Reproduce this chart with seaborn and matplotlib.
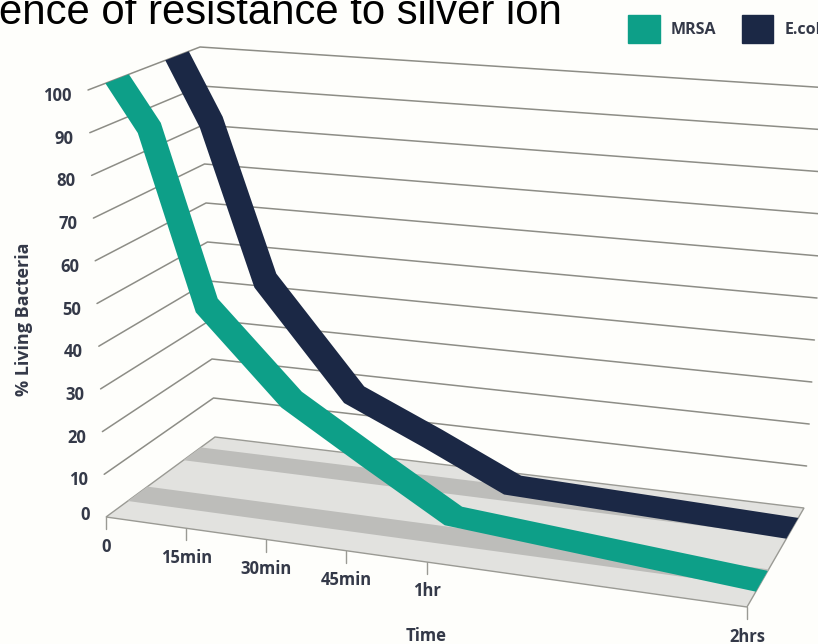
import numpy as np
import pandas as pd
import seaborn as sns
from matplotlib import pyplot as plt
from matplotlib.patches import Patch

# values
mrsa_minutes = [0, 5.5, 15, 30.5, 45, 61, 120]
mrsa_percent = [100, 89, 48, 28, 17, 5.5, 0]
ecoli_minutes = [0, 6, 15.5, 32.5, 48, 64, 120]
ecoli_percent = [100, 84, 45.5, 19.5, 11, 2, 0]
percent_ticks = [100, 90, 80, 70, 60, 50, 40, 30, 20, 10, 0]
time_ticks = [0, 15, 30, 45, 60, 120]
time_labels = ['0', '15min', '30min', '45min', '1hr', '2hrs']

GREEN = '#0d9f88'
NAVY = '#1b2845'
BG = '#fefefb'
INK = '#343948'
MAX_MINUTES = 120

# corners of the fake 3d box in image pixels: [time end][depth end]
floor_box = np.array([[[106, 517], [215, 437]], [[747, 607], [804, 508]]], float)
top_box = np.array([[[88, 90], [200, 47]], [[765, 167], [830, 88]]], float)


def project(minutes, depth, percent):
    t = np.asarray(minutes, float) / MAX_MINUTES
    d = np.asarray(depth, float)
    p = np.asarray(percent, float) / 100
    t, d, p = np.broadcast_arrays(t, d, p)
    t, d, p = t[..., None], d[..., None], p[..., None]
    low = ((1 - t) * (1 - d) * floor_box[0, 0] + (1 - t) * d * floor_box[0, 1]
           + t * (1 - d) * floor_box[1, 0] + t * d * floor_box[1, 1])
    high = ((1 - t) * (1 - d) * top_box[0, 0] + (1 - t) * d * top_box[0, 1]
            + t * (1 - d) * top_box[1, 0] + t * d * top_box[1, 1])
    return (1 - p) * low + p * high


def ribbon(ax, minutes, percent, d1, d2, color, z):
    front = project(minutes, d1, percent)
    back = project(minutes, d2, percent)
    outline = np.vstack([front, back[::-1]])
    ax.fill(outline[:, 0], outline[:, 1], color=color, lw=0, zorder=z)


sns.set_theme(style='white')
plt.rcParams['font.family'] = ['Open Sans', 'DejaVu Sans']

fig = plt.figure(figsize=(8.18, 6.44), dpi=100, facecolor=BG)
ax = fig.add_axes([0, 0, 1, 1])
ax.set_facecolor(BG)

# wall grid lines
rows = []
for level in percent_ticks[:-1]:
    corner = project(0, 1, level)
    left = project(0, 0, level)
    right = project(MAX_MINUTES, 1, level)
    for n, pt in enumerate([left, corner, right]):
        rows.append({'level': level, 'order': n, 'x': pt[0], 'y': pt[1]})
grid = pd.DataFrame(rows)
sns.lineplot(data=grid, x='x', y='y', units='level', estimator=None, sort=False,
             color='#8d8d86', lw=1.1, ax=ax, zorder=1)

# floor and its two darker bands
corners = project([0, MAX_MINUTES, MAX_MINUTES, 0], [0, 0, 1, 1], 0)
ax.fill(corners[:, 0], corners[:, 1], facecolor='#e2e2df', edgecolor='#9a9a94', lw=1, zorder=2)
for d1, d2 in [(0.2, 0.38), (0.71, 0.87)]:
    band = project([0, MAX_MINUTES, MAX_MINUTES, 0], [d1, d1, d2, d2], 0)
    ax.fill(band[:, 0], band[:, 1], color='#bdbdba', lw=0, zorder=3)

# series ribbons
ribbon(ax, ecoli_minutes, ecoli_percent, 0.69, 0.90, NAVY, 4)
ribbon(ax, mrsa_minutes, mrsa_percent, 0.155, 0.365, GREEN, 5)

# y tick labels
for level in percent_ticks:
    x, y = project(0, 0, level)
    ax.text(x - 16, y + (6 if level else -2), str(level), ha='right', va='center',
            fontsize=12, fontweight='bold', color=INK)

# x ticks and labels
for minutes, label in zip(time_ticks, time_labels):
    x, y = project(minutes, 0, 0)
    ax.plot([x, x], [y, y + 12], color='#9a9a94', lw=1, zorder=1)
    ax.text(x, y + 29.5, label, ha='center', va='center',
            fontsize=12, fontweight='bold', color=INK)

ax.text(426, 636, 'Time', ha='center', va='center', fontsize=12, fontweight='bold', color=INK)
ax.text(24, 319, '% Living Bacteria', ha='center', va='center', rotation=90,
        fontsize=13, fontweight='bold', color=INK)

ax.text(-1, 24, 'ence of resistance to silver ion', ha='left', va='baseline',
        fontsize=30.2, color='black', family=['Liberation Sans', 'DejaVu Sans'])

handles = [Patch(color=GREEN, label='MRSA'), Patch(color=NAVY, label='E.coli')]
ax.legend(handles=handles, ncols=2, frameon=False, loc='center left', bbox_to_anchor=(628, 29),
          bbox_transform=ax.transData, handlelength=2.0, handleheight=2.4, handletextpad=0.7,
          columnspacing=1.56, borderpad=0, borderaxespad=0, labelcolor=INK,
          prop={'size': 11.5, 'weight': 'bold'})

ax.set_xlim(0, 818)
ax.set_ylim(644, 0)
ax.axis('off')

plt.savefig('out.png', dpi=100, facecolor=BG)
plt.close()
